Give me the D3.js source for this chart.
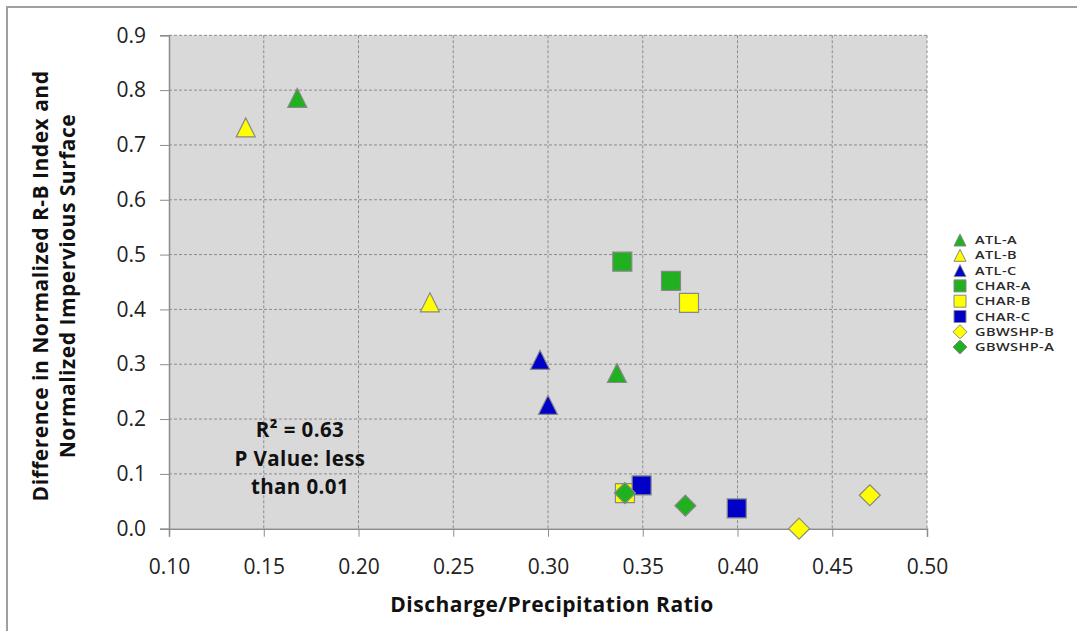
<!DOCTYPE html>
<html>
<head>
<meta charset="utf-8">
<script src="https://cdn.jsdelivr.net/npm/d3@7"></script>
<style>
  body { margin: 0; background: #fff; }
  text { font-family: "Open Sans", sans-serif; }
</style>
</head>
<body>
<svg id="chart"></svg>
<script>
const width = 1077, height = 631;

// series names, colours and marker shapes
const seriesNames = ["ATL-A", "ATL-B", "ATL-C", "CHAR-A", "CHAR-B", "CHAR-C", "GBWSHP-B", "GBWSHP-A"];
const seriesColors = ["#20b020", "#ffff00", "#0000c8", "#20b020", "#ffff00", "#0000c8", "#ffff00", "#20b020"];
const seriesShapes = ["triangle", "triangle", "triangle", "square", "square", "square", "diamond", "diamond"];

// x = discharge/precipitation ratio, y = difference in normalized indices
const atlA = [[0.1677, 0.786], [0.3364, 0.284]];
const atlB = [[0.1405, 0.732], [0.2377, 0.413]];
const atlC = [[0.2958, 0.308], [0.3000, 0.226]];
const charA = [[0.3392, 0.487], [0.3649, 0.452]];
const charB = [[0.3744, 0.412], [0.3406, 0.065]];
const charC = [[0.3494, 0.079], [0.3996, 0.037]];
const gbwshpB = [[0.4325, 0.000], [0.4698, 0.061]];
const gbwshpA = [[0.3406, 0.065], [0.3725, 0.042]];
const seriesValues = [atlA, atlB, atlC, charA, charB, charC, gbwshpB, gbwshpA];

const xTicks = [0.10, 0.15, 0.20, 0.25, 0.30, 0.35, 0.40, 0.45, 0.50];
const yTicks = [0, 0.1, 0.2, 0.3, 0.4, 0.5, 0.6, 0.7, 0.8, 0.9];
const annotation = ["R\u00b2 = 0.63", "P Value: less", "than 0.01"];

const margin = {left: 169, top: 35.3, right: 1077 - 927, bottom: 631 - 528.7};

const svg = d3.select("#chart")
    .attr("width", width)
    .attr("height", height);

// outer frame (only top & left visible in the original)
svg.append("path")
    .attr("d", `M7,${height} L7,7 L${width},7`)
    .attr("fill", "none")
    .attr("stroke", "#a0a0a0")
    .attr("stroke-width", 2);

const x = d3.scaleLinear().domain([0.10, 0.50]).range([margin.left, width - margin.right]);
const y = d3.scaleLinear().domain([0, 0.9]).range([height - margin.bottom, margin.top]);

//plot background
svg.append("rect")
    .attr("x", x(0.10)).attr("y", y(0.9))
    .attr("width", x(0.50) - x(0.10))
    .attr("height", y(0) - y(0.9))
    .attr("fill", "#d9d9d9");

//dashed grid
const grid = svg.append("g").attr("stroke", "#8c8c8c").attr("stroke-dasharray", "3,2").attr("stroke-width", 1);
grid.selectAll(".gx").data(xTicks.slice(1)).join("line")
    .attr("x1", d => x(d)).attr("x2", d => x(d))
    .attr("y1", y(0.9)).attr("y2", y(0));
grid.selectAll(".gy").data(yTicks.slice(1)).join("line")
    .attr("x1", x(0.10)).attr("x2", x(0.50))
    .attr("y1", d => y(d)).attr("y2", d => y(d));

//axes
const xAxis = svg.append("g")
    .attr("transform", `translate(0,${y(0)})`)
    .call(d3.axisBottom(x).tickValues(xTicks).tickFormat(d3.format(".2f")).tickSize(8).tickPadding(22));
const yAxis = svg.append("g")
    .attr("transform", `translate(${x(0.10)},0)`)
    .call(d3.axisLeft(y).tickValues(yTicks).tickFormat(d3.format(".1f")).tickSize(9).tickPadding(14));

[xAxis, yAxis].forEach(a => {
    a.select(".domain").attr("stroke", "#8c8c8c").attr("stroke-width", 1.5);
    a.selectAll(".tick line").attr("stroke", "#8c8c8c");
    a.selectAll(".tick text")
        .attr("fill", "#222")
        .style("font-size", "21px")
        .style("font-family", "'Open Sans', sans-serif");
});

//marker shapes
function markerPath(shape, s) {
    const h = s / 2;
    if (shape === "triangle") return `M0,${-h} L${h},${h} L${-h},${h} Z`;
    if (shape === "square") return `M${-h},${-h} H${h} V${h} H${-h} Z`;
    return `M0,${-h} L${h},0 L0,${h} L${-h},0 Z`;
}

//points, drawn series by series
seriesValues.forEach((vals, i) => {
    svg.append("g").selectAll("path")
        .data(vals)
        .join("path")
        .attr("transform", d => `translate(${x(d[0])},${y(d[1])})`)
        .attr("d", markerPath(seriesShapes[i], seriesShapes[i] === "diamond" ? 21 : 19))
        .attr("fill", seriesColors[i])
        .attr("stroke", "#888")
        .attr("stroke-width", 1.2);
});

//annotation
svg.append("text")
    .attr("x", 300).attr("y", 437)
    .attr("text-anchor", "middle")
    .style("font-size", "20.5px").style("font-weight", "bold")
    .style("letter-spacing", "0.4px").attr("fill", "#111")
    .selectAll("tspan").data(annotation).join("tspan")
    .attr("x", 300)
    .attr("dy", (d, i) => i === 0 ? 0 : 28.5)
    .text(d => d);

//axis titles
svg.append("text")
    .attr("x", 552).attr("y", 612)
    .attr("text-anchor", "middle")
    .style("font-size", "21px").style("font-weight", "bold")
    .style("letter-spacing", "0.5px").attr("fill", "#111")
    .text("Discharge/Precipitation Ratio");

const yTitle = svg.append("text")
    .attr("transform", `translate(48,286) rotate(-90)`)
    .attr("text-anchor", "middle")
    .style("font-size", "21px").style("font-weight", "bold")
    .style("letter-spacing", "0.5px").attr("fill", "#111");
yTitle.append("tspan").attr("x", 0).attr("dy", 0).text("Difference in Normalized R-B Index and");
yTitle.append("tspan").attr("x", 0).attr("dy", 27).text("Normalized Impervious Surface");

//legend
const legend = svg.append("g").attr("transform", "translate(960,240)");
const rows = legend.selectAll("g").data(seriesNames).join("g")
    .attr("transform", (d, i) => `translate(0,${i * 15.3})`);
rows.append("path")
    .attr("d", (d, i) => markerPath(seriesShapes[i], seriesShapes[i] === "diamond" ? 14 : 12))
    .attr("fill", (d, i) => seriesColors[i])
    .attr("stroke", "#888")
    .attr("stroke-width", 1);
rows.append("text")
    .attr("transform", "translate(15,0) scale(1.3,1)")
    .attr("dy", "0.36em")
    .style("font-size", "11.2px").style("font-weight", 600)
    .style("letter-spacing", "0.3px").attr("fill", "#2a2a2a")
    .text(d => d);
</script>
</body>
</html>
